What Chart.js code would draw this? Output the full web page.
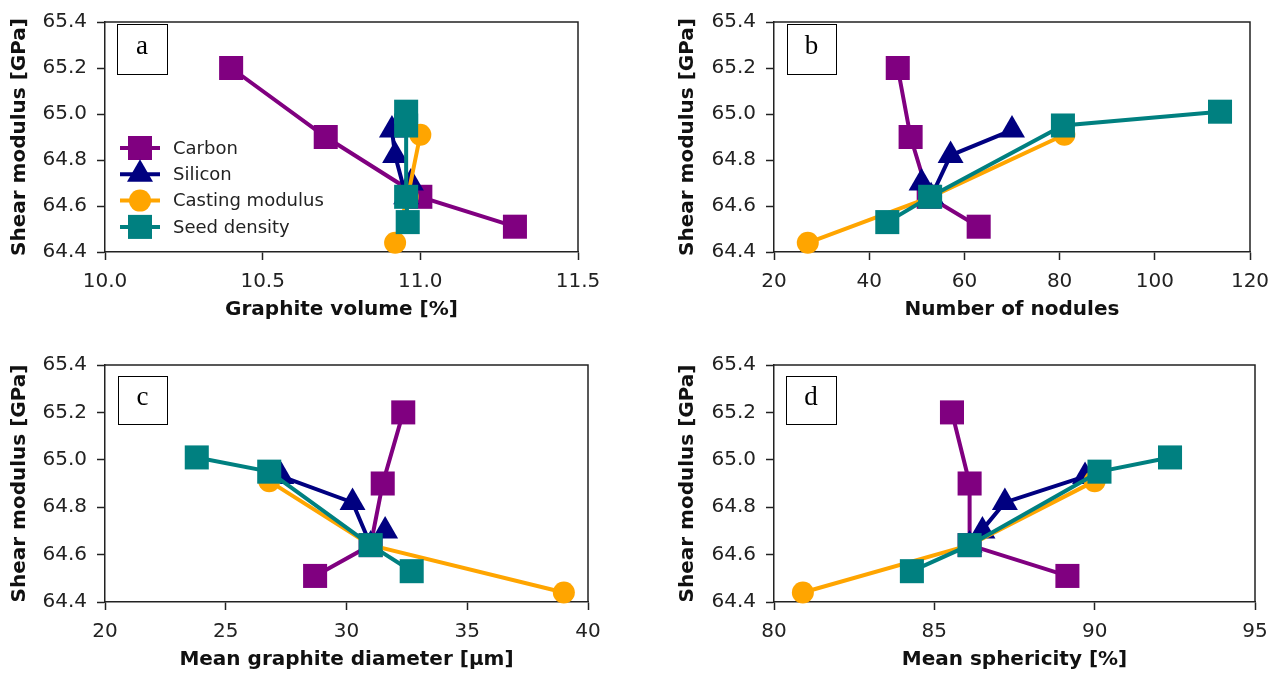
<!DOCTYPE html>
<html>
<head>
<meta charset="utf-8">
<script src="https://cdn.jsdelivr.net/npm/chart.js@4"></script>
<style>
  html, body { margin: 0; padding: 0; background: #fff; }
  body { width: 1281px; height: 676px; position: relative; overflow: hidden; }
  canvas { position: absolute; }
</style>
</head>
<body>
<canvas id="chart-a"></canvas>
<canvas id="chart-b"></canvas>
<canvas id="chart-c"></canvas>
<canvas id="chart-d"></canvas>
<script>
// series names and colours
const seriesNames = ["Carbon", "Silicon", "Casting modulus", "Seed density"];
const seriesColors = ["#800080", "#000080", "#ffa500", "#008080"];
const seriesMarkers = ["rect", "triangle", "circle", "rect"];

// shear modulus [GPa] (same for all four panels)
const carbonShear = [65.20, 64.90, 64.64, 64.51];
const siliconShear = [64.93, 64.82, 64.64, 64.70];
const castingShear = [64.91, 64.64, 64.44];
const seedShear = [65.01, 64.95, 64.64, 64.53];

// a: graphite volume [%]
const carbonVolume = [10.40, 10.70, 11.00, 11.30];
const siliconVolume = [10.91, 10.92, 10.955, 10.97];
const castingVolume = [11.00, 10.96, 10.92];
const seedVolume = [10.955, 10.955, 10.955, 10.96];

// b: number of nodules
const carbonNodules = [46.0, 48.7, 52.5, 63.0];
const siliconNodules = [70.0, 57.1, 53.0, 51.0];
const castingNodules = [81.0, 53.0, 27.1];
const seedNodules = [113.7, 80.7, 52.8, 43.8];

// c: mean graphite diameter [µm]
const carbonDiameter = [32.35, 31.5, 31.0, 28.7];
const siliconDiameter = [27.3, 30.25, 31.0, 31.6];
const castingDiameter = [26.8, 31.0, 39.0];
const seedDiameter = [23.8, 26.8, 31.0, 32.7];

// d: mean sphericity [%]
const carbonSphericity = [85.55, 86.1, 86.1, 89.15];
const siliconSphericity = [89.7, 87.2, 86.1, 86.5];
const castingSphericity = [90.0, 86.1, 80.9];
const seedSphericity = [92.35, 90.15, 86.1, 84.3];

// axis ranges / ticks
const yRange = [64.4, 65.4, 0.2];
const xRangeA = [10.0, 11.5, 0.5];
const xRangeB = [20, 120, 20];
const xRangeC = [20, 40, 5];
const xRangeD = [80, 95, 5];

const shearAll = [carbonShear, siliconShear, castingShear, seedShear];

const markerRadius = { rect: 17, triangle: 15, circle: 11 };

function drawMarker(ctx, style, x, y, color) {
  const r = markerRadius[style];
  ctx.fillStyle = color;
  ctx.beginPath();
  if (style === "rect") {
    const s = Math.SQRT1_2 * r;
    ctx.rect(x - s, y - s, 2 * s, 2 * s);
  } else if (style === "triangle") {
    ctx.moveTo(x, y - r);
    ctx.lineTo(x + Math.sin(2 * Math.PI / 3) * r, y + r / 2);
    ctx.lineTo(x - Math.sin(2 * Math.PI / 3) * r, y + r / 2);
    ctx.closePath();
  } else {
    ctx.arc(x, y, r, 0, Math.PI * 2);
  }
  ctx.fill();
}

const framePlugin = {
  id: "frame",
  afterDraw(chart, args, opts) {
    const { ctx, chartArea: ca } = chart;
    ctx.save();
    // top and right spines
    ctx.strokeStyle = "#222";
    ctx.lineWidth = 1.5;
    ctx.beginPath();
    ctx.moveTo(ca.left, ca.top);
    ctx.lineTo(ca.right, ca.top);
    ctx.lineTo(ca.right, ca.bottom);
    ctx.stroke();

    // panel letter box
    const b = opts.box;
    ctx.fillStyle = "#fff";
    ctx.fillRect(b.x, b.y, b.w, b.h);
    ctx.strokeStyle = "#000";
    ctx.lineWidth = 1;
    ctx.strokeRect(b.x + 0.5, b.y + 0.5, b.w, b.h);
    ctx.fillStyle = "#000";
    ctx.font = "27px 'Liberation Serif', 'Times New Roman', serif";
    ctx.textAlign = "center";
    ctx.textBaseline = "middle";
    ctx.fillText(opts.letter, b.x + b.w / 2, b.y + b.h / 2 - 2);

    // legend (panel a only)
    if (opts.legend) {
      const L = opts.legend;
      ctx.font = "18px 'DejaVu Sans'";
      ctx.textAlign = "left";
      seriesNames.forEach((name, i) => {
        const y = L.y + i * L.step;
        ctx.strokeStyle = seriesColors[i];
        ctx.lineWidth = 4;
        ctx.beginPath();
        ctx.moveTo(L.x, y);
        ctx.lineTo(L.x + 40, y);
        ctx.stroke();
        drawMarker(ctx, seriesMarkers[i], L.x + 20, y, seriesColors[i]);
        ctx.fillStyle = "#222";
        ctx.fillText(name, L.x + 53, y + 1);
      });
    }
    ctx.restore();
  }
};

function makePanel(p) {
  const canvas = document.getElementById(p.id);
  canvas.width = p.w;
  canvas.height = p.h;
  canvas.style.left = p.left + "px";
  canvas.style.top = p.top + "px";
  canvas.style.width = p.w + "px";
  canvas.style.height = p.h + "px";

  const datasets = p.xs.map((xs, i) => ({
    label: seriesNames[i],
    data: xs.map((x, j) => ({ x: x, y: shearAll[i][j] })),
    showLine: true,
    borderColor: seriesColors[i],
    backgroundColor: seriesColors[i],
    borderWidth: 4,
    pointStyle: seriesMarkers[i],
    pointRadius: markerRadius[seriesMarkers[i]],
    pointHoverRadius: markerRadius[seriesMarkers[i]],
    pointBorderWidth: 0,
    order: 4 - i,
    clip: false,
    tension: 0
  }));

  const tickFont = { family: "DejaVu Sans", size: 20 };
  const titleFont = { family: "DejaVu Sans", size: 20, weight: "bold" };
  const yAxisWidth = p.area.l - p.left;
  const xAxisHeight = p.top + p.h - p.area.b;

  new Chart(canvas, {
    type: "scatter",
    data: { datasets },
    options: {
      responsive: false,
      animation: false,
      devicePixelRatio: 1,
      events: [],
      layout: {
        padding: { left: 0, bottom: 0, top: p.area.t - p.top, right: p.left + p.w - p.area.r }
      },
      plugins: {
        legend: { display: false },
        tooltip: { enabled: false },
        frame: {
          letter: p.letter,
          box: { x: p.box[0] - p.left, y: p.box[1] - p.top, w: p.box[2], h: p.box[3] },
          legend: p.legend ? { x: p.legend.x - p.left, y: p.legend.y - p.top, step: p.legend.step } : null
        }
      },
      scales: {
        x: {
          type: "linear",
          min: p.xRange[0],
          max: p.xRange[1],
          afterFit: s => { s.height = xAxisHeight; },
          grid: { drawOnChartArea: false, drawTicks: true, tickLength: 8, tickWidth: 1.5, tickColor: "#222" },
          border: { display: true, color: "#222", width: 1.5 },
          ticks: {
            stepSize: p.xRange[2],
            font: tickFont,
            color: "#222",
            padding: 10,
            maxRotation: 0,
            callback: v => p.xFixed ? v.toFixed(p.xFixed) : String(v)
          },
          title: {
            display: true,
            text: p.xTitle,
            font: titleFont,
            color: "#111",
            padding: { top: 0, bottom: p.top + p.h - p.xTitleY - 12 }
          }
        },
        y: {
          type: "linear",
          min: yRange[0],
          max: yRange[1],
          afterFit: s => { s.width = yAxisWidth; },
          grid: { drawOnChartArea: false, drawTicks: true, tickLength: 8, tickWidth: 1.5, tickColor: "#222" },
          border: { display: true, color: "#222", width: 1.5 },
          ticks: {
            stepSize: yRange[2],
            font: tickFont,
            color: "#222",
            padding: 10,
            callback: v => v.toFixed(1)
          },
          title: {
            display: true,
            text: "Shear modulus [GPa]",
            font: titleFont,
            color: "#111",
            padding: { top: p.yTitleX - p.left - 12, bottom: 0 }
          }
        }
      }
    },
    plugins: [framePlugin]
  });
}

makePanel({
  id: "chart-a", letter: "a", left: 0, top: 0, w: 640, h: 330,
  area: { l: 105, r: 578, t: 16, b: 252 }, yTitleX: 20, xTitleY: 310,
  box: [117, 24, 50, 50],
  legend: { x: 120, y: 148, step: 26.3 },
  xRange: xRangeA, xFixed: 1, xTitle: "Graphite volume [%]",
  xs: [carbonVolume, siliconVolume, castingVolume, seedVolume]
});
makePanel({
  id: "chart-b", letter: "b", left: 640, top: 0, w: 641, h: 330,
  area: { l: 774, r: 1250, t: 16, b: 252 }, yTitleX: 688, xTitleY: 310,
  box: [787, 24, 49, 50],
  xRange: xRangeB, xTitle: "Number of nodules",
  xs: [carbonNodules, siliconNodules, castingNodules, seedNodules]
});
makePanel({
  id: "chart-c", letter: "c", left: 0, top: 330, w: 640, h: 346,
  area: { l: 105, r: 588, t: 365, b: 602 }, yTitleX: 20, xTitleY: 660,
  box: [118, 376, 49, 48],
  xRange: xRangeC, xTitle: "Mean graphite diameter [µm]",
  xs: [carbonDiameter, siliconDiameter, castingDiameter, seedDiameter]
});
makePanel({
  id: "chart-d", letter: "d", left: 640, top: 330, w: 641, h: 346,
  area: { l: 774, r: 1255, t: 365, b: 602 }, yTitleX: 688, xTitleY: 660,
  box: [786, 376, 50, 48],
  xRange: xRangeD, xTitle: "Mean sphericity [%]",
  xs: [carbonSphericity, siliconSphericity, castingSphericity, seedSphericity]
});
</script>
</body>
</html>
